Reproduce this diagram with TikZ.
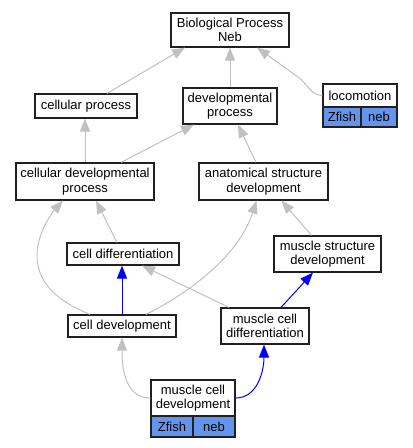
\documentclass[tikz,border=0pt]{standalone}
\usepackage{fontspec}
\setmainfont{Liberation Sans}
\usetikzlibrary{arrows.meta}
\definecolor{edgegrey}{HTML}{C0C0C0}
\definecolor{cellblue}{HTML}{6495ED}
\definecolor{boxline}{HTML}{202020}
\tikzset{
  box/.style={draw=boxline, line width=1.2pt, fill=white, rectangle, inner sep=0pt, align=center,
    font=\fontsize{13}{14.5}\selectfont},
  cell/.style={box, fill=cellblue},
  isa/.style={draw=edgegrey, line width=1pt, -{Triangle[length=13pt,width=10pt]}, color=edgegrey},
  part/.style={draw=blue, line width=1pt, -{Triangle[length=13pt,width=10pt]}, color=blue}
}
\begin{document}
\begin{tikzpicture}[x=1pt,y=-1pt]
\useasboundingbox (0,0) rectangle (413,448);
% nodes
\node[box, minimum width=118, minimum height=34] (bp) at (230,30) {Biological Process\\Neb};
\node[box, minimum width=74, minimum height=23] (loc) at (360,95.5) {locomotion};
\node[cell, minimum width=38, minimum height=20] (locz) at (342,117) {Zfish};
\node[cell, minimum width=36, minimum height=20] (locn) at (379,117) {neb};
\node[box, minimum width=94, minimum height=36] (dev) at (230,106) {developmental\\process};
\node[box, minimum width=102, minimum height=24] (cp) at (86,106) {cellular process};
\node[box, minimum width=138, minimum height=37] (cdp) at (85,181.5) {cellular developmental\\process};
\node[box, minimum width=129, minimum height=37] (asd) at (263.5,181.5) {anatomical structure\\development};
\node[box, minimum width=112, minimum height=22] (cdiff) at (123,254) {cell differentiation};
\node[box, minimum width=107, minimum height=36] (msd) at (327.5,254) {muscle structure\\development};
\node[box, minimum width=108, minimum height=22] (cdev) at (122,326) {cell development};
\node[box, minimum width=88, minimum height=36] (mcd) at (265,326) {muscle cell\\differentiation};
\node[box, minimum width=84, minimum height=36] (mcdev) at (193,398) {muscle cell\\development};
\node[cell, minimum width=42, minimum height=21] (mcdevz) at (172,426.5) {Zfish};
\node[cell, minimum width=42, minimum height=21] (mcdevn) at (214,426.5) {neb};
% edges
\draw[isa] ([xshift=21]cp.north) -- ([xshift=-45]bp.south);
\draw[isa] (dev.north) -- (bp.south);
\draw[isa] (loc.west) .. controls (310,95) and (308,84) .. (298,77) -- ([xshift=27]bp.south);
\draw[isa] (cdp.north) -- (cdp.north |- cp.south);
\draw[isa] ([xshift=36]cdp.north) -- ([xshift=-36]dev.south);
\draw[isa] ([xshift=-7.5]asd.north) -- ([xshift=8]dev.south);
\draw[isa] ([xshift=-6]cdiff.north) -- ([xshift=11]cdp.south);
\draw[isa] ([xshift=-32]cdev.north) .. controls (60,302) and (37,285) .. (37,255) .. controls (37,235) and (50,215) .. ([xshift=-22]cdp.south);
\draw[isa] ([xshift=24]cdev.north) .. controls (185,295) and (238,258) .. ([xshift=-7]asd.south);
\draw[isa] ([xshift=-16]msd.north) -- ([xshift=18]asd.south);
\draw[isa] ([xshift=-36]mcd.north) -- ([xshift=19]cdiff.south);
\draw[part] (cdev.north) -- (cdev.north |- cdiff.south);
\draw[part] ([xshift=16]mcd.north) -- ([xshift=-14.5]msd.south);
\draw[isa] (mcdev.west) .. controls (128,398) and (122,375) .. (cdev.south);
\draw[part] (mcdev.east) .. controls (258,398) and (264,370) .. ([xshift=-1]mcd.south);
\end{tikzpicture}
\end{document}
